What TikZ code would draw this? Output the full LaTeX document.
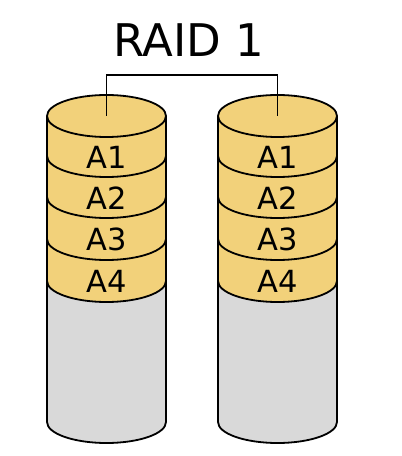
\documentclass[tikz,border=0pt]{standalone}
\usepackage{fontspec}
\setmainfont{DejaVu Sans}
\definecolor{disk}{RGB}{242,209,122}
\definecolor{emptyc}{RGB}{217,217,217}
\newcommand\drawcyl[2]{%
  \fill[emptyc] (#1-59.5,175) -- (#1-59.5,34) arc(180:360:59.5 and 21) -- (#1+59.5,175) -- cycle;
  \fill[disk] (#1-59.5,340) -- (#1-59.5,175) arc(180:360:59.5 and 21) -- (#1+59.5,340) -- cycle;
  \draw[edge] (#1-59.5,340) -- (#1-59.5,34) arc(180:360:59.5 and 21) -- (#1+59.5,340);
  \foreach \yy in {300,259,217,175} \draw[edge] (#1-59.5,\yy) arc(180:360:59.5 and 21);
  \draw[edge,fill=disk] (#1,340) ellipse (59.5 and 21);
  \coordinate (#2top) at (#1,340);
  \node[lbl] (#2a1) at (#1,299) {A1};
  \node[lbl] (#2a2) at (#1,258) {A2};
  \node[lbl] (#2a3) at (#1,216.5) {A3};
  \node[lbl] (#2a4) at (#1,175) {A4};
}
\begin{document}
\begin{tikzpicture}[x=1pt,y=1pt,
  edge/.style={line width=1.8pt,draw=black},
  lbl/.style={font=\fontsize{30.5}{30.5}\selectfont,inner sep=0pt,text=black}]
\useasboundingbox (0,0) rectangle (402,456);
\drawcyl{106.5}{L}
\drawcyl{277.5}{R}
\node[font=\fontsize{45}{45}\selectfont,inner sep=0pt] (title) at (189,416) {RAID 1};
\coordinate (br) at (0,381);
\draw[line width=1.5pt] (Ltop) -- (Ltop |- br) -- (Rtop |- br) -- (Rtop);
\end{tikzpicture}
\end{document}
